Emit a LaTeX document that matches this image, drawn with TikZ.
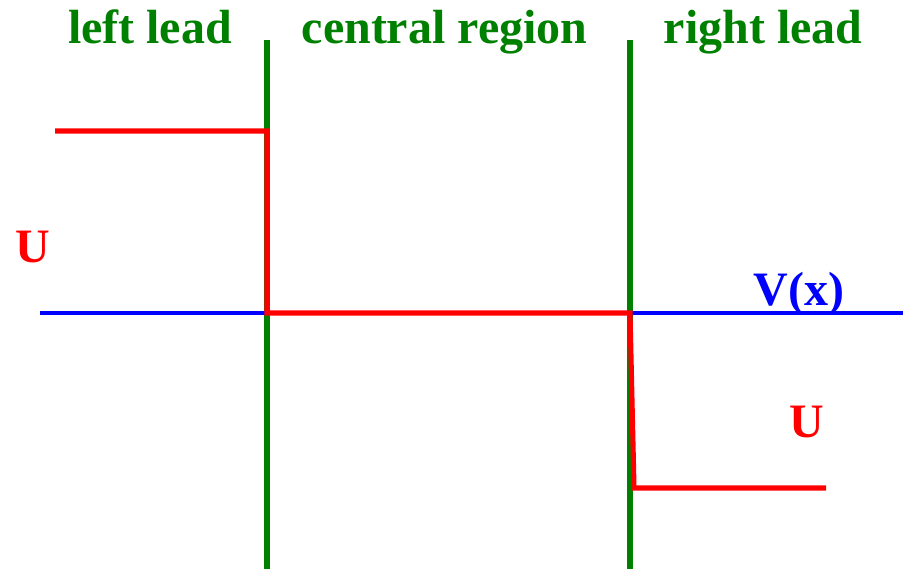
\documentclass[tikz,border=0pt]{standalone}
\usepackage{fontspec}
\setmainfont{Liberation Serif}
\usepackage{tikz}
\usetikzlibrary{positioning,calc}
\definecolor{lgreen}{RGB}{0,128,0}
\definecolor{lred}{RGB}{255,0,0}
\definecolor{lblue}{RGB}{0,0,255}

\begin{document}
\begin{tikzpicture}[x=0.02cm,y=-0.02cm,
  lbl/.style={font=\fontsize{27.3}{30}\selectfont\bfseries,anchor=base,inner sep=0pt},
  wall/.style={draw=lgreen,line width=3.4pt},
  pot/.style={draw=lred,line width=2.9pt},
  axis/.style={draw=lblue,line width=2.4pt}]
\useasboundingbox (0,0) rectangle (911,569);

% ================= region labels =================
\node[lbl,lgreen] (lleft) at (150,43) {left lead};
\node[lbl,lgreen] (lcentral) at (444.5,43) {central region};
\node[lbl,lgreen] (lright) at (763,43) {right lead};

% ================= interfaces =================
\draw[wall] (267,40) -- (267,569);
\draw[wall] (630,40) -- (630,569);

% ================= zero line =================
\draw[axis] (40,313) -- (903,313);
\node[lbl,lblue] (vx) at (799,305) {V(x)};

% ================= potential step profile =================
\draw[pot,line join=miter] (55,131) -- (267,131) -- (267,313) -- (630,313)
  -- (634,488) -- (826,488);
\node[lbl,lred] (uleft) at (33,262) {U};
\node[lbl,lred] (uright) at (807,437) {U};
\end{tikzpicture}
\end{document}
